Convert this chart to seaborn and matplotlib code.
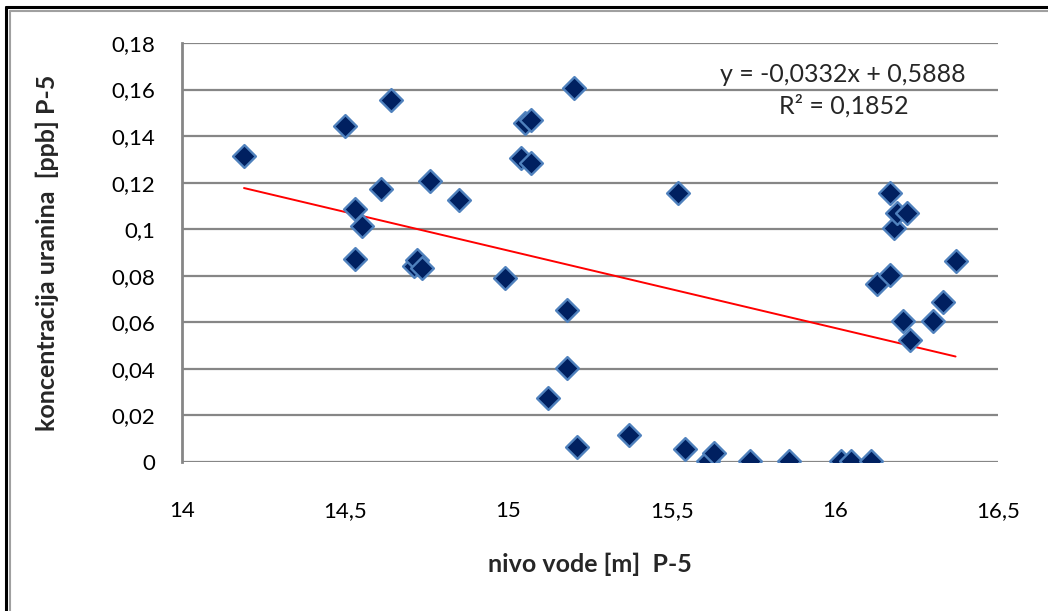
import numpy as np
import pandas as pd
import matplotlib
matplotlib.use("Agg")
import matplotlib.pyplot as plt
from matplotlib.ticker import FuncFormatter
from matplotlib.lines import Line2D
import seaborn as sns

# ---- data ----
nivo_vode = [14.19, 14.50, 14.64, 14.61, 14.76, 14.85, 14.53, 14.55, 14.53, 14.71,
             14.72, 14.735, 14.99, 15.04, 15.07, 15.05, 15.07, 15.20, 15.18, 15.18,
             15.12, 15.21, 15.37, 15.52, 15.54, 15.61, 15.63, 15.74, 15.86, 16.02,
             16.05, 16.11, 16.13, 16.17, 16.17, 16.18, 16.19, 16.22, 16.21, 16.23,
             16.30, 16.33, 16.37]
koncentracija = [0.1314, 0.1443, 0.1555, 0.1173, 0.1207, 0.1125, 0.1087, 0.1014, 0.0872, 0.0842,
                 0.0868, 0.0833, 0.0790, 0.1306, 0.1284, 0.1456, 0.1469, 0.1607, 0.0653, 0.0404,
                 0.0275, 0.0064, 0.0116, 0.1155, 0.0056, 0.0004, 0.0039, 0.0004, 0.0004, 0.0004,
                 0.0004, 0.0004, 0.0765, 0.0803, 0.1155, 0.1005, 0.1070, 0.1070, 0.0606, 0.0524,
                 0.0606, 0.0687, 0.0863]
trend_slope = -0.0332
trend_intercept = 0.5888
r_squared = 0.1852
x_ticks = [14, 14.5, 15, 15.5, 16, 16.5]
y_ticks = [0, 0.02, 0.04, 0.06, 0.08, 0.10, 0.12, 0.14, 0.16, 0.18]
x_label = "nivo vode [m]  P-5"
y_label = "koncentracija uranina  [ppb] P-5"

df = pd.DataFrame({"x": nivo_vode, "y": koncentracija})

sns.set_theme(style="white")
plt.rcParams["font.family"] = ["Lato", "DejaVu Sans"]

fig = plt.figure(figsize=(10.48, 6.11), dpi=100)
ax = fig.add_axes([182 / 1048, 1 - 462 / 611, (998 - 182) / 1048, (462 - 43) / 611])

# grid
for yv in y_ticks:
    ax.axhline(yv, color="#868686", lw=1.6, zorder=0)

sns.scatterplot(data=df, x="x", y="y", marker="D", s=135, color="#002060",
                edgecolor="#4F81BD", linewidth=1.7, ax=ax, zorder=3, legend=False)

xs = np.array([min(nivo_vode), max(nivo_vode)])
sns.lineplot(x=xs, y=trend_slope * xs + trend_intercept, color="#FF0000", lw=1.4,
             ax=ax, zorder=2)

ax.set_xlim(x_ticks[0], x_ticks[-1])
ax.set_ylim(y_ticks[0], y_ticks[-1])
ax.set_xticks(x_ticks)
ax.set_yticks(y_ticks)

def comma_fmt(v, pos):
    s = ("%.2f" % v).rstrip("0").rstrip(".")
    return s.replace(".", ",")

ax.xaxis.set_major_formatter(FuncFormatter(comma_fmt))
ax.yaxis.set_major_formatter(FuncFormatter(comma_fmt))
ax.tick_params(axis="x", length=0, pad=28, labelsize=16, colors="#000000")
ax.tick_params(axis="y", length=0, pad=19, labelsize=16, colors="#000000")

for side in ["top", "right", "bottom"]:
    ax.spines[side].set_visible(False)
ax.spines["left"].set_color("#868686")
ax.spines["left"].set_linewidth(2)

ax.set_xlabel(x_label, fontsize=18, fontweight="bold", labelpad=23)
ax.set_ylabel(y_label, fontsize=18, fontweight="bold", labelpad=38)

eq = "y = " + f"{trend_slope:.4f}".replace(".", ",") + "x + " + f"{trend_intercept:.4f}".replace(".", ",")
ax.text(843 / 1048, 1 - 75 / 611, eq, transform=fig.transFigure, ha="center", va="center", fontsize=18)
ax.text(844 / 1048, 1 - 106 / 611, "R² = " + f"{r_squared:.4f}".replace(".", ","),
        transform=fig.transFigure, ha="center", va="center", fontsize=18)

# outer frame (black + grey inner), only top/left visible as in reference
fig.add_artist(Line2D([6 / 1048, 1], [1 - 7 / 611, 1 - 7 / 611], color="black", lw=2.2, transform=fig.transFigure))
fig.add_artist(Line2D([6 / 1048, 6 / 1048], [0, 1 - 7 / 611], color="black", lw=2.2, transform=fig.transFigure))
fig.add_artist(Line2D([10 / 1048, 1], [1 - 11 / 611, 1 - 11 / 611], color="#A0A0A0", lw=1.5, transform=fig.transFigure))
fig.add_artist(Line2D([10 / 1048, 10 / 1048], [0, 1 - 11 / 611], color="#A0A0A0", lw=1.5, transform=fig.transFigure))

fig.savefig("out.png", dpi=100)
